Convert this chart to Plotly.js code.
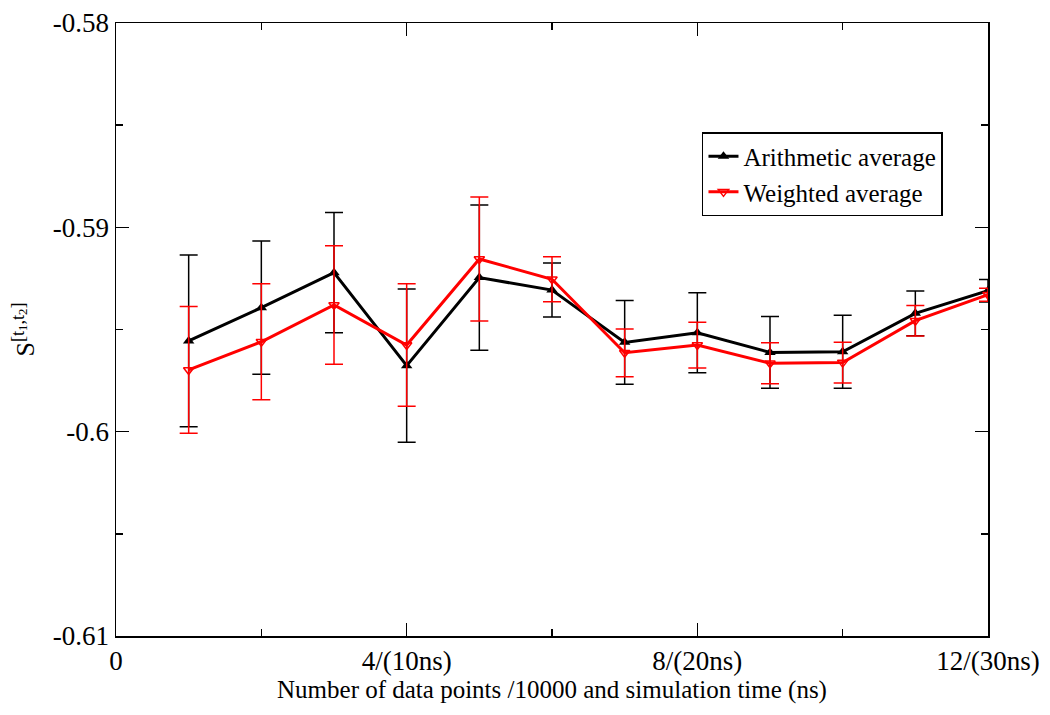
<!DOCTYPE html>
<html>
<head>
<meta charset="utf-8">
<script src="https://cdn.plot.ly/plotly-3.0.1.min.js"></script>
<style>body{margin:0;padding:0;background:#fff}#chart{width:1050px;height:715px}</style>
</head>
<body>
<div id="chart"></div>
<script>
const xPoints = [1, 2, 3, 4, 5, 6, 7, 8, 9, 10, 11, 12];
const arithMean = [-0.59556, -0.59393, -0.59222, -0.59677, -0.59246, -0.59307, -0.59563, -0.59516, -0.59612, -0.59609, -0.59421, -0.59310];
const arithErr  = [0.00420, 0.00326, 0.00294, 0.00375, 0.00355, 0.00132, 0.00205, 0.00196, 0.00176, 0.00179, 0.00110, 0.00055];
const weightMean = [-0.59698, -0.59560, -0.59380, -0.59576, -0.59155, -0.59254, -0.59614, -0.59576, -0.59665, -0.59662, -0.59457, -0.59330];
const weightErr  = [0.00310, 0.00284, 0.00290, 0.00300, 0.00303, 0.00110, 0.00117, 0.00112, 0.00100, 0.00100, 0.00075, 0.00032];
const xTickVals = [0, 4, 8, 12];
const xTickText = ['0', '4/(10ns)', '8/(20ns)', '12/(30ns)'];
const yTickVals = [-0.61, -0.60, -0.59, -0.58];
const yTickText = ['-0.61', '-0.6', '-0.59', '-0.58'];

const font = {family: 'Liberation Serif, Times New Roman, serif', color: '#000'};

const traces = [
  {
    x: xPoints, y: arithMean, type: 'scatter', mode: 'lines+markers',
    name: 'Arithmetic average',
    line: {color: '#000000', width: 3},
    marker: {symbol: 'triangle-up', size: 10, color: '#000000'},
    error_y: {type: 'data', array: arithErr, visible: true, color: '#000000', thickness: 1.5, width: 9}
  },
  {
    x: xPoints, y: weightMean, type: 'scatter', mode: 'lines+markers',
    name: 'Weighted average',
    line: {color: '#ff0000', width: 3},
    marker: {symbol: 'triangle-down-open', size: 9, color: '#ff0000', line: {width: 1.5}},
    error_y: {type: 'data', array: weightErr, visible: true, color: '#ff0000', thickness: 1.5, width: 9}
  }
];

const layout = {
  width: 1050, height: 715,
  margin: {l: 116, r: 62, t: 23, b: 79},
  paper_bgcolor: '#fff', plot_bgcolor: '#fff',
  font: Object.assign({size: 22}, font),
  showlegend: true,
  legend: {
    x: 0.672, y: 0.822, xanchor: 'left', yanchor: 'top',
    bordercolor: '#000', borderwidth: 1.5, bgcolor: '#fff',
    font: Object.assign({size: 25}, font),
    tracegroupgap: 0
  },
  xaxis: {
    range: [0, 12], tickmode: 'array', tickvals: xTickVals, ticktext: xTickText,
    showgrid: false, zeroline: false,
    showline: true, linecolor: '#000', linewidth: 1.5, mirror: 'allticks',
    ticks: 'inside', ticklen: 13, tickwidth: 1.5, tickcolor: '#000',
    minor: {tickvals: [2, 6, 10], ticks: 'inside', ticklen: 7, tickwidth: 1.5, tickcolor: '#000', showgrid: false},
    tickfont: Object.assign({size: 27}, font),
    title: {text: 'Number of data points /10000 and simulation time (ns)', font: Object.assign({size: 25}, font), standoff: 4}
  },
  yaxis: {
    range: [-0.61, -0.58], tickmode: 'array', tickvals: yTickVals, ticktext: yTickText,
    showgrid: false, zeroline: false,
    showline: true, linecolor: '#000', linewidth: 1.5, mirror: 'allticks',
    ticks: 'inside', ticklen: 13, tickwidth: 1.5, tickcolor: '#000',
    minor: {tickvals: [-0.605, -0.595, -0.585], ticks: 'inside', ticklen: 7, tickwidth: 1.5, tickcolor: '#000', showgrid: false},
    tickfont: Object.assign({size: 27}, font),
    title: {text: 'S<sup>[t<sub>1</sub>,t<sub>2</sub>]</sup>', font: Object.assign({size: 26}, font), standoff: 10}
  }
};

Plotly.newPlot('chart', traces, layout, {displayModeBar: false, staticPlot: true});
</script>
</body>
</html>
